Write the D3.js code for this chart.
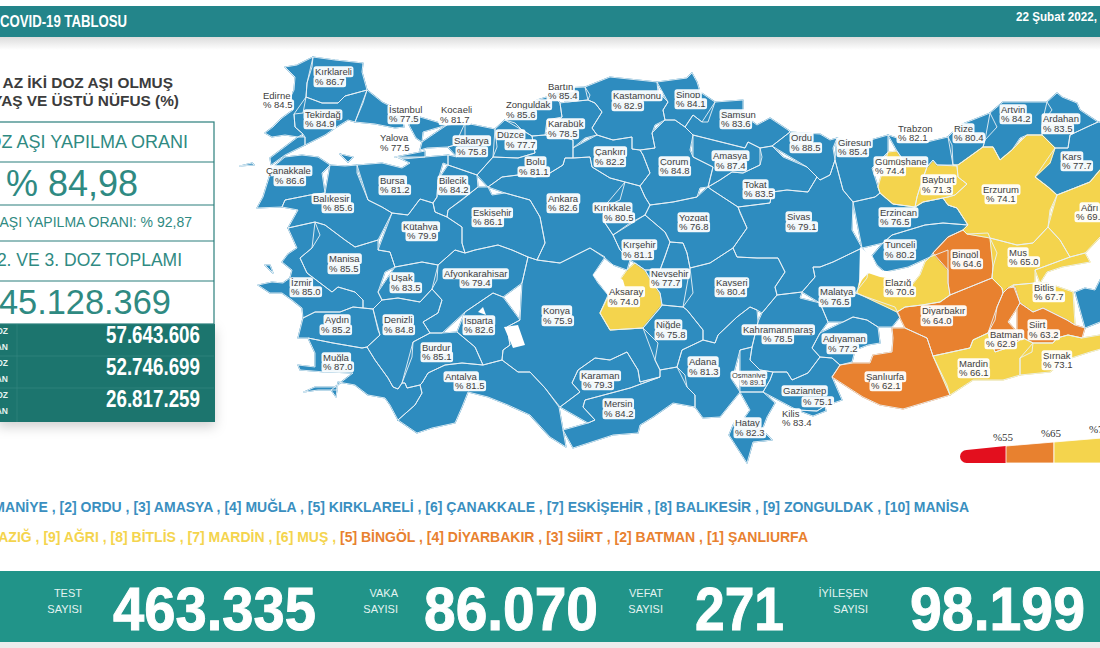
<!DOCTYPE html>
<html>
<head>
<meta charset="utf-8">
<script src="https://cdn.jsdelivr.net/npm/d3@7"></script>
<style>
    html, body { margin: 0; padding: 0; background: #fff; }
    svg { display: block; font-family: "Liberation Sans", Arial, sans-serif; }
</style>
</head>
<body>
<svg id="chart" width="1100" height="648"></svg>
<script>
// values
var provinces = ["Edirne","Kırklareli","Tekirdağ","İstanbul","Çanakkale","Balıkesir","Bursa","Yalova","Kocaeli","Sakarya","Bilecik","Kütahya","Eskişehir","Manisa","İzmir","Aydın","Muğla","Denizli","Uşak","Afyonkarahisar","Isparta","Burdur","Antalya","Konya","Karaman","Mersin","Aksaray","Niğde","Nevşehir","Kırşehir","Kırıkkale","Ankara","Bolu","Düzce","Zonguldak","Bartın","Karabük","Kastamonu","Çankırı","Çorum","Sinop","Samsun","Amasya","Tokat","Yozgat","Kayseri","Sivas","Ordu","Giresun","Adana","Osmaniye","Hatay","Gaziantep","Kilis","Kahramanmaraş","Malatya","Adıyaman","Şanlıurfa","Diyarbakır","Elazığ","Tunceli","Bingöl","Erzincan","Gümüşhane","Bayburt","Trabzon","Rize","Artvin","Ardahan","Kars","Erzurum","Ağrı","Muş","Bitlis","Batman","Siirt","Mardin","Şırnak","Van"];
var vaccinated = [84.5,86.7,84.9,77.5,86.6,85.6,81.2,77.5,81.7,75.8,84.2,79.9,86.1,85.5,85.0,85.2,87.0,84.8,83.5,79.4,82.6,85.1,81.5,75.9,79.3,84.2,74.0,75.8,77.7,81.1,80.5,82.6,81.1,77.7,85.6,85.4,78.5,82.9,82.2,84.8,84.1,83.6,87.4,83.5,76.8,80.4,79.1,88.5,85.4,81.3,89.1,82.3,75.1,83.4,78.5,76.5,77.2,62.1,64.0,70.6,80.2,64.6,76.5,74.4,71.3,82.1,80.4,84.2,83.5,77.7,74.1,69.3,65.0,67.7,62.9,63.2,66.1,73.1,76.0];

var legendStops = [45, 55, 65, 75];
var legendColors = ["#e30f1e", "#e8812f", "#f4d44d", "#2e8cbf"];

var highestTen = ["OSMANİYE","ORDU","AMASYA","MUĞLA","KIRKLARELİ","ÇANAKKALE","ESKİŞEHİR","BALIKESİR","ZONGULDAK","MANİSA"];
var lowestTen = ["ELAZIĞ","AĞRI","BİTLİS","MARDİN","MUŞ","BİNGÖL","DİYARBAKIR","SİİRT","BATMAN","ŞANLIURFA"];

var dailyLabels = ["TEST","VAKA","VEFAT","İYİLEŞEN"];
var dailyValues = ["463.335","86.070","271","98.199"];

var doseLabels = ["1. DOZ","2. DOZ","3. DOZ"];
var doseValues = ["57.643.606","52.746.699","26.817.259"];

// pre-projected basemap, one ring list per province (same order as provinces)
var outlines = [
 [[[285,67],[297,65],[313,57],[312,67],[307,83],[306,97],[303,113],[294,114],[295,127],[303,134],[298,137],[285,135],[272,137],[265,133],[273,127],[282,118],[293,110],[290,98],[294,90],[295,77],[288,73]]],
 [[[313,57],[335,60],[363,63],[362,72],[367,90],[345,96],[338,103],[322,103],[306,97],[307,83],[312,67]]],
 [[[306,97],[322,103],[338,103],[345,96],[367,90],[363,103],[355,122],[348,120],[335,128],[325,135],[315,140],[305,145],[305,137],[303,134],[295,127],[294,114],[303,113]]],
 [[[367,90],[382,102],[388,105],[402,115],[404,127],[395,128],[375,124],[355,122],[363,103]],[[409,125],[412,115],[420,117],[447,125],[423,132],[422,142],[416,138],[408,131]]],
 [[[272,168],[285,157],[302,155],[318,157],[330,165],[322,173],[325,193],[310,195],[285,200],[282,207],[257,208],[263,197],[265,180]],[[298,137],[305,137],[305,145],[285,155],[271,165],[270,158],[285,147]],[[240,166],[252,163],[254,165],[247,169]]],
 [[[330,165],[345,166],[357,165],[357,173],[368,200],[382,207],[392,213],[378,240],[355,247],[345,240],[325,225],[315,222],[288,228],[298,210],[282,207],[285,200],[310,195],[325,193],[322,173]],[[340,154],[353,157],[348,162],[343,160]]],
 [[[357,165],[382,163],[402,168],[410,163],[397,157],[403,159],[425,157],[448,155],[448,165],[443,163],[438,180],[437,197],[433,203],[420,199],[408,215],[392,213],[382,207],[368,200],[357,173]]],
 [[[395,157],[425,151],[425,157],[403,159]]],
 [[[447,125],[465,123],[465,137],[455,145],[448,147],[427,148],[420,150],[422,142],[423,132]]],
 [[[465,123],[495,129],[497,147],[493,157],[477,175],[448,165],[448,155],[457,157],[448,147],[455,145],[465,137]]],
 [[[448,165],[477,175],[478,187],[462,200],[448,210],[447,217],[435,212],[433,203],[437,197],[438,180],[443,163]]],
 [[[392,213],[408,215],[420,199],[433,203],[435,212],[447,217],[462,227],[462,243],[465,253],[455,250],[438,265],[422,262],[395,267],[390,252],[378,250],[378,240]]],
 [[[478,187],[488,187],[492,195],[505,193],[530,200],[540,217],[545,243],[537,260],[528,257],[512,250],[498,245],[475,250],[465,253],[462,243],[462,227],[447,217],[448,210],[462,200]]],
 [[[315,222],[325,225],[345,240],[355,247],[378,240],[378,250],[390,252],[395,267],[385,272],[378,292],[382,300],[373,309],[363,308],[363,300],[355,292],[338,287],[332,292],[307,273],[300,258],[312,248],[320,235]]],
 [[[288,228],[315,222],[320,235],[312,248],[300,258],[307,273],[332,292],[338,287],[355,292],[363,300],[363,308],[353,307],[340,312],[315,312],[303,318],[302,308],[292,300],[282,293],[270,293],[258,285],[272,282],[283,283],[290,278],[292,270],[282,262],[288,254],[297,248],[290,240]],[[265,265],[270,265],[273,273],[270,275]]],
 [[[303,318],[315,312],[340,312],[353,307],[363,308],[373,309],[378,330],[380,335],[367,347],[362,348],[333,343],[308,338],[298,338],[295,330]]],
 [[[308,338],[333,343],[362,348],[367,347],[375,360],[388,378],[393,387],[398,389],[402,383],[405,383],[407,388],[420,385],[422,393],[415,405],[398,420],[390,405],[385,398],[368,395],[355,385],[338,382],[336,397],[331,390],[353,373],[325,372],[300,370],[298,365],[315,367],[315,353],[307,347]],[[304,392],[315,387],[337,387],[337,390],[318,390],[307,393]]],
 [[[373,309],[382,300],[398,298],[420,302],[432,289],[442,300],[438,313],[423,322],[430,333],[413,342],[412,357],[402,383],[398,389],[393,387],[388,378],[375,360],[367,347],[380,335],[378,330]]],
 [[[395,267],[422,262],[438,265],[437,280],[432,289],[420,302],[398,298],[382,300],[378,292],[385,272]]],
 [[[438,265],[455,250],[465,253],[475,250],[498,245],[512,250],[528,257],[522,283],[503,297],[493,293],[465,312],[442,333],[430,333],[423,322],[438,313],[442,300],[432,289],[437,280]]],
 [[[465,312],[493,293],[503,297],[520,320],[507,327],[510,345],[503,350],[502,360],[483,365],[475,347],[457,332],[442,333]]],
 [[[413,342],[430,333],[442,333],[457,332],[475,347],[483,365],[462,363],[445,365],[428,373],[422,383],[420,385],[407,388],[405,383],[402,383],[412,357]]],
 [[[398,420],[415,405],[422,393],[420,385],[422,383],[428,373],[445,365],[462,363],[483,365],[502,360],[518,372],[530,372],[545,388],[559,407],[563,430],[566,447],[550,437],[530,415],[508,405],[488,397],[468,392],[462,407],[455,423],[432,428],[417,433],[405,428]]],
 [[[522,283],[528,257],[537,260],[560,263],[590,248],[605,257],[593,275],[598,283],[608,295],[600,313],[610,330],[643,328],[658,343],[655,360],[660,370],[660,377],[640,382],[638,370],[627,352],[610,360],[595,358],[578,370],[572,383],[580,392],[560,407],[545,388],[530,372],[518,372],[502,360],[503,350],[510,345],[507,327],[520,320],[503,297]]],
 [[[560,407],[580,392],[572,383],[578,370],[595,358],[610,360],[627,352],[638,370],[640,382],[660,377],[630,388],[585,400],[583,407],[595,420],[588,423],[563,430]]],
 [[[563,430],[588,423],[595,420],[583,407],[585,400],[630,388],[660,377],[660,370],[677,367],[685,375],[687,387],[695,395],[695,407],[673,403],[653,417],[640,425],[638,433],[613,435],[573,448],[566,447]]],
 [[[627,270],[635,263],[645,270],[652,282],[660,293],[662,305],[660,308],[643,328],[610,330],[600,313],[608,297],[625,287]]],
 [[[643,328],[660,308],[662,305],[683,307],[687,310],[703,330],[703,340],[682,350],[677,367],[660,370],[655,360],[658,343]]],
 [[[670,242],[683,243],[687,253],[690,268],[693,293],[683,307],[662,305],[660,293],[652,282],[645,270],[660,270],[665,257]]],
 [[[645,215],[665,232],[670,242],[665,257],[660,270],[645,270],[635,263],[630,260],[620,250],[613,235],[630,223]]],
 [[[625,182],[640,186],[645,197],[650,205],[645,215],[630,223],[613,235],[605,223],[603,208],[620,200]]],
 [[[488,187],[502,177],[518,175],[535,177],[550,173],[563,165],[565,158],[573,158],[590,157],[592,167],[610,178],[625,182],[620,200],[603,208],[605,223],[613,235],[620,250],[630,260],[627,270],[613,265],[605,258],[590,248],[560,263],[537,260],[545,243],[540,217],[530,200],[505,193],[492,195]]],
 [[[477,175],[493,157],[518,158],[535,153],[532,136],[545,135],[563,137],[573,140],[573,148],[573,158],[565,158],[563,165],[550,173],[535,177],[518,175],[502,177],[488,187],[478,187]]],
 [[[495,129],[505,120],[515,123],[522,130],[532,136],[535,153],[518,158],[493,157],[497,147]]],
 [[[505,120],[522,110],[537,100],[553,95],[560,103],[562,117],[547,120],[545,135],[532,136],[522,130],[515,123]]],
 [[[553,95],[562,88],[585,87],[590,95],[588,100],[567,102],[560,103]]],
 [[[562,117],[560,103],[567,102],[588,100],[595,103],[602,112],[592,128],[597,135],[585,138],[573,148],[573,140],[563,137],[545,135],[547,120]]],
 [[[585,87],[610,77],[657,82],[658,92],[668,102],[663,110],[665,120],[655,125],[652,133],[655,148],[640,150],[632,149],[632,137],[613,140],[597,135],[592,128],[602,112],[595,103],[588,100],[590,95]]],
 [[[573,148],[573,158],[590,157],[592,167],[610,178],[625,182],[640,186],[650,173],[643,155],[640,150],[632,149],[632,137],[613,140],[597,135],[585,138]]],
 [[[665,120],[675,120],[685,127],[693,135],[690,150],[693,157],[713,167],[708,187],[700,188],[697,197],[673,202],[650,205],[645,197],[640,186],[650,173],[643,155],[640,150],[655,148],[652,133],[655,125]]],
 [[[657,82],[687,78],[692,73],[697,82],[700,92],[715,102],[708,122],[702,122],[693,115],[685,127],[675,120],[665,120],[663,110],[668,102],[658,92]]],
 [[[715,102],[743,100],[743,115],[757,125],[770,118],[788,130],[790,132],[772,146],[760,148],[748,142],[745,148],[713,140],[693,135],[685,127],[693,115],[702,122],[708,122]]],
 [[[693,135],[713,140],[745,148],[748,142],[760,148],[762,157],[760,165],[743,173],[732,172],[720,180],[708,187],[713,167],[693,157],[690,150]]],
 [[[760,148],[772,146],[783,157],[807,167],[817,177],[808,192],[787,190],[772,192],[770,203],[738,207],[712,190],[708,187],[720,180],[732,172],[743,173],[760,165],[762,157]]],
 [[[708,187],[712,190],[738,207],[740,213],[747,228],[733,248],[710,263],[690,268],[687,253],[683,243],[670,242],[665,232],[645,215],[650,205],[673,202],[697,197],[700,188]]],
 [[[690,268],[710,263],[733,248],[737,257],[757,258],[778,258],[785,272],[775,287],[777,295],[762,313],[757,310],[750,307],[737,317],[718,335],[715,343],[703,340],[703,330],[687,310],[683,307],[693,293]]],
 [[[738,207],[770,203],[772,192],[787,190],[808,192],[817,177],[820,180],[830,175],[835,160],[843,190],[853,202],[852,230],[862,248],[833,262],[820,267],[813,267],[815,277],[802,292],[777,295],[775,287],[785,272],[778,258],[757,258],[737,257],[733,248],[747,228],[740,213]]],
 [[[772,146],[790,132],[820,134],[830,140],[837,138],[833,148],[835,160],[830,175],[820,180],[817,177],[807,167],[783,157]]],
 [[[837,138],[860,143],[888,135],[888,152],[872,168],[878,187],[880,193],[875,197],[853,202],[843,190],[835,160],[833,148]]],
 [[[677,367],[682,350],[703,340],[715,343],[718,335],[737,317],[750,307],[757,310],[758,322],[752,347],[740,350],[732,380],[740,392],[720,417],[703,418],[695,407],[695,395],[687,387],[685,375]]],
 [[[740,350],[752,347],[750,360],[760,370],[773,372],[770,380],[763,392],[740,392],[732,380]]],
 [[[740,392],[763,392],[775,403],[767,417],[762,430],[772,440],[753,442],[747,463],[729,435],[734,423],[743,420],[750,410],[740,397]]],
 [[[763,392],[770,380],[773,372],[787,372],[792,380],[808,373],[820,357],[832,358],[840,365],[832,377],[842,400],[825,406],[817,411],[797,410],[775,403]]],
 [[[797,410],[817,411],[825,406],[826,411],[813,416],[800,414]]],
 [[[762,313],[777,295],[802,292],[800,298],[820,303],[828,322],[820,333],[812,348],[820,357],[808,373],[792,380],[787,372],[773,372],[760,370],[750,360],[752,347],[758,322],[757,310]]],
 [[[802,292],[815,277],[813,267],[820,267],[833,262],[862,248],[870,258],[867,278],[855,293],[895,307],[900,317],[892,327],[878,327],[867,320],[853,317],[843,322],[828,322],[820,303],[800,298]]],
 [[[843,322],[853,317],[867,320],[878,327],[880,343],[868,345],[855,350],[852,362],[840,365],[832,358],[820,357],[812,348],[820,333],[828,322]]],
 [[[832,377],[840,365],[853,363],[870,363],[873,355],[892,352],[893,338],[892,328],[905,328],[927,338],[933,356],[947,385],[950,395],[903,409],[880,405],[863,397],[842,400]]],
 [[[897,312],[905,307],[922,305],[940,302],[950,295],[992,278],[1002,288],[1003,293],[997,307],[995,320],[988,333],[973,340],[970,348],[933,356],[927,338],[905,328],[899,320]]],
 [[[857,293],[860,280],[870,272],[885,272],[895,280],[912,285],[920,275],[925,262],[930,257],[948,250],[948,270],[948,283],[950,295],[940,302],[922,305],[905,307],[897,312],[895,307]]],
 [[[883,243],[892,235],[925,225],[943,223],[968,225],[963,230],[948,237],[933,253],[930,257],[908,267],[885,272],[877,265],[872,256],[877,250]]],
 [[[933,253],[948,237],[963,230],[967,234],[988,233],[990,238],[997,253],[993,267],[992,278],[950,295],[948,283],[948,270],[948,250]]],
 [[[853,202],[875,197],[880,193],[893,204],[915,207],[923,202],[943,198],[948,205],[957,208],[968,225],[943,223],[925,225],[892,235],[883,243],[862,248],[852,230]]],
 [[[888,152],[897,151],[905,163],[927,167],[922,180],[917,197],[915,207],[893,204],[880,193],[878,187],[872,168]]],
 [[[927,167],[933,160],[937,165],[957,166],[958,177],[967,184],[955,195],[948,197],[943,198],[923,202],[915,207],[917,197],[922,180]]],
 [[[888,135],[903,140],[927,142],[948,137],[952,145],[953,165],[937,165],[933,160],[927,167],[905,163],[897,151],[888,152]]],
 [[[948,137],[960,125],[990,113],[997,127],[985,140],[983,147],[958,165],[953,165],[952,145]]],
 [[[990,113],[1003,102],[1047,102],[1052,110],[1042,123],[1042,135],[1027,135],[1020,138],[1012,150],[1000,160],[993,147],[983,147],[985,140],[997,127]]],
 [[[1047,102],[1057,93],[1062,97],[1077,103],[1080,110],[1098,122],[1087,127],[1070,135],[1068,148],[1055,148],[1042,135],[1042,123],[1052,110]]],
 [[[1055,148],[1068,148],[1070,135],[1087,127],[1098,122],[1115,125],[1115,170],[1100,170],[1090,182],[1057,195],[1048,187],[1035,177],[1050,163]]],
 [[[1027,135],[1042,135],[1055,148],[1050,163],[1035,177],[1048,187],[1057,195],[1050,210],[1048,227],[1033,243],[1017,245],[990,238],[967,234],[963,230],[968,225],[957,208],[948,205],[943,198],[948,197],[955,195],[967,184],[958,177],[957,166],[953,165],[958,165],[983,147],[993,147],[1000,160],[1012,150],[1020,138]]],
 [[[1057,195],[1090,182],[1100,170],[1115,170],[1115,225],[1100,237],[1085,253],[1070,257],[1060,240],[1048,227],[1050,210]]],
 [[[990,238],[1017,245],[1033,243],[1048,227],[1060,240],[1070,257],[1035,270],[1035,283],[1013,285],[1008,288],[1003,293],[1002,288],[992,278],[993,267],[997,253]]],
 [[[1013,285],[1035,283],[1040,283],[1047,283],[1073,292],[1075,325],[1067,320],[1043,308],[1033,312],[1020,303],[1015,287]],[[1035,270],[1070,257],[1085,253],[1090,262],[1062,267],[1047,272],[1040,283],[1035,283]]],
 [[[997,307],[1003,293],[1008,288],[1015,287],[1020,303],[1017,308],[1008,322],[1017,332],[1023,338],[1007,348],[995,352],[988,333],[995,320]]],
 [[[1017,308],[1020,303],[1033,312],[1043,308],[1067,320],[1075,325],[1085,328],[1082,338],[1068,335],[1057,338],[1053,343],[1033,343],[1023,338],[1017,332],[1008,322]]],
 [[[933,356],[970,348],[973,340],[988,333],[995,352],[1007,348],[1023,338],[1033,343],[1032,352],[1020,358],[1020,375],[1003,380],[973,380],[950,395],[947,385]]],
 [[[1033,343],[1053,343],[1057,338],[1068,335],[1082,338],[1100,335],[1115,333],[1115,345],[1090,352],[1065,360],[1050,372],[1020,375],[1020,358],[1032,352]]],
 [[[1075,292],[1085,288],[1095,290],[1100,280],[1115,270],[1115,320],[1100,322],[1085,328],[1075,325]]]
];

var lakes = [
 [[593,275],[605,260],[613,265],[613,273],[623,280],[625,287],[608,295],[598,283]],
 [[478,312],[483,307],[486,315],[482,318]],
 [[504,327],[518,325],[525,345],[513,348],[510,343]],
 [[860,247],[872,256],[878,270],[895,272],[900,280],[880,277],[868,273],[862,280],[859,286],[864,268]]
];

// [name x, name y, value x, value y] of each label
var labelSpots = [[263,96,263,105],[315,72,315,82],[305,115,305,124],[389,110,389,119],[266,171,275,181],[313,199,323,208],[380,181,380,190],[380,138,380,148],[441,110,440,120],[454,141,457,152],[439,181,439,190],[403,227,407,236],[473,213,473,222],[329,259,329,269],[291,283,291,292],[325,320,321,330],[323,358,323,367],[384,320,384,330],[391,278,391,288],[444,274,461,283],[464,321,464,330],[422,348,422,357],[445,377,455,386],[543,311,543,321],[581,376,583,385],[604,404,604,414],[609,292,609,302],[656,325,656,335],[651,274,651,283],[623,245,623,255],[594,208,604,218],[548,199,548,208],[526,162,519,172],[497,135,506,145],[506,105,506,115],[548,87,548,96],[548,124,548,134],[613,96,613,106],[595,152,595,162],[660,162,660,171],[676,95,676,104],[721,115,721,124],[713,156,716,166],[744,185,744,194],[679,218,679,227],[716,283,716,292],[787,217,787,227],[791,138,791,148],[838,143,838,152],[689,362,689,372],[732,375,741,382],[735,423,735,433],[783,391,803,402],[782,414,782,423],[743,330,763,339],[820,292,820,302],[823,339,828,349],[866,377,871,386],[922,311,922,321],[885,283,885,292],[885,245,885,255],[952,255,952,264],[880,213,880,222],[875,162,875,171],[922,180,922,190],[898,129,898,138],[954,129,954,138],[1001,110,1001,119],[1043,119,1043,129],[1062,157,1062,166],[983,190,986,199],[1081,208,1076,217],[1009,253,1009,262],[1034,288,1034,297],[990,335,986,344],[1029,325,1029,335],[959,364,959,373],[1043,356,1043,365],null];

var svg = d3.select("#chart");
var TEAL = "#23858a", BAND = "#219489", DARK = "#1e756e", LINE = "#2a7f7c", INK = "#2f8a82";

var defs = svg.append("defs");
var fade = defs.append("linearGradient").attr("id", "fade").attr("x1", 0).attr("x2", 0).attr("y1", 0).attr("y2", 1);
fade.append("stop").attr("offset", 0).attr("stop-color", "#dcdcdc");
fade.append("stop").attr("offset", 1).attr("stop-color", "#ffffff");
defs.append("filter").attr("id", "soft").attr("x", "-20%").attr("y", "-20%").attr("width", "140%").attr("height", "150%")
    .append("feDropShadow").attr("dx", 0).attr("dy", 5).attr("stdDeviation", 6).attr("flood-color", "#000").attr("flood-opacity", 0.18);

// header
svg.append("rect").attr("x", 0).attr("y", 37).attr("width", 1100).attr("height", 13).attr("fill", "url(#fade)");
svg.append("rect").attr("x", 0).attr("y", 6).attr("width", 1100).attr("height", 31).attr("fill", TEAL);
svg.append("text").attr("x", 0).attr("y", 23).attr("fill", "#fff")
    .attr("font-weight", "bold").attr("font-size", 17).attr("textLength", 127).attr("lengthAdjust", "spacingAndGlyphs")
    .attr("dominant-baseline", "middle").text("COVID-19 TABLOSU");
svg.append("text").attr("x", 1097).attr("y", 18).attr("text-anchor", "end").attr("fill", "#fff")
    .attr("font-weight", "bold").attr("font-size", 12).attr("textLength", 81).attr("lengthAdjust", "spacingAndGlyphs")
    .attr("dominant-baseline", "middle").text("22 Şubat 2022,");

// map
var color = d3.scaleThreshold().domain(legendStops.slice(1)).range(legendColors);
var projection = d3.geoIdentity();
var path = d3.geoPath(projection);
var features = provinces.map(function (name, i) {
    return {
        type: "Feature",
        properties: { name: name, value: vaccinated[i], spot: labelSpots[i] },
        geometry: { type: "MultiPolygon", coordinates: outlines[i].map(function (ring) { return [ring]; }) }
    };
});
// same colour stroke first so neighbours close up, then the pale borders
svg.append("g").selectAll("path").data(features).enter().append("path")
    .attr("d", path)
    .attr("fill", function (d) { return color(d.properties.value); })
    .attr("stroke", function (d) { return color(d.properties.value); }).attr("stroke-width", 1.2).attr("stroke-linejoin", "round");
svg.append("g").selectAll("path").data(features).enter().append("path")
    .attr("d", path)
    .attr("fill", "none")
    .attr("stroke", "#eaf2f6").attr("stroke-width", 0.9).attr("stroke-linejoin", "round");
svg.append("g").selectAll("path").data(lakes).enter().append("path")
    .attr("d", function (d) { return path({ type: "Polygon", coordinates: [d] }); })
    .attr("fill", "#fff");

// province labels, each line on its own white tag
var labelData = features.filter(function (d) { return d.properties.spot; });
var tags = svg.append("g").attr("fill", "#404040");
function addLine(g, x, y, txt, size) {
    var rect = g.append("rect").attr("fill", "#fff").attr("fill-opacity", 0.94).attr("rx", 2.5);
    var t = g.append("text").attr("x", x).attr("y", y).attr("dy", "0.35em").attr("font-size", size).text(txt);
    var b = t.node().getBBox();
    rect.attr("x", b.x - 1.5).attr("y", b.y).attr("width", b.width + 3).attr("height", b.height);
}
labelData.forEach(function (d) {
    var s = d.properties.spot, small = d.properties.name === "Osmaniye";
    var g = tags.append("g");
    addLine(g, s[0], s[1], d.properties.name, small ? 7.5 : 9.5);
    addLine(g, s[2], s[3], "% " + d.properties.value.toFixed(1), small ? 7.5 : 9.5);
});

// legend wedge
var legendX = d3.scaleLinear().domain(legendStops).range([960, 1006, 1054, 1102]);
var legendTop = d3.scaleLinear().domain([45, 75]).range([450, 438]);
var legendBase = 463;
svg.append("circle").attr("cx", legendX(45) + 6.5).attr("cy", legendBase - 6.5).attr("r", 6.5).attr("fill", legendColors[0]);
d3.pairs(legendStops).forEach(function (p, i) {
    var left = i === 0 ? legendX(45) + 6.5 : legendX(p[0]);
    var topLeft = i === 0 ? legendTop(45) : legendTop(p[0]);
    svg.append("path").attr("fill", legendColors[i]).attr("stroke", "#fff").attr("stroke-width", i === 0 ? 0 : 0.8)
        .attr("d", d3.line()([[left, legendBase], [left, topLeft], [legendX(p[1]), legendTop(p[1])], [legendX(p[1]), legendBase]]) + "Z");
    svg.append("text").attr("x", legendX(p[1]) - 3).attr("y", legendTop(p[1]) - 5).attr("text-anchor", "middle")
        .attr("font-family", "Liberation Serif").attr("font-size", 11).attr("fill", "#333").text("%" + p[1]);
});

// left panel
var panel = svg.append("g");
panel.append("text").attr("x", 173).attr("y", 88).attr("text-anchor", "end").attr("font-weight", "bold").attr("font-size", 15.4).attr("fill", "#3c3c3c").text("EN AZ İKİ DOZ AŞI OLMUŞ");
panel.append("text").attr("x", 179).attr("y", 106).attr("text-anchor", "end").attr("font-weight", "bold").attr("font-size", 15.4).attr("fill", "#3c3c3c").text("18 YAŞ VE ÜSTÜ NÜFUS (%)");
panel.append("rect").attr("x", -2).attr("y", 324).attr("width", 217).attr("height", 98).attr("fill", DARK).attr("filter", "url(#soft)");
panel.append("rect").attr("x", -2).attr("y", 122).attr("width", 216).attr("height", 202).attr("fill", "#fff").attr("stroke", LINE).attr("stroke-width", 1.2);
[162, 205, 241, 281].forEach(function (y) {
    panel.append("line").attr("x1", 0).attr("x2", 214).attr("y1", y).attr("y2", y).attr("stroke", LINE).attr("stroke-width", 1.2);
});
var boxRows = [
    { x: 188, y: 148, size: 18, txt: "2. DOZ AŞI YAPILMA ORANI" },
    { x: 138, y: 196, size: 36, txt: "% 84,98" },
    { x: 192, y: 227, size: 14, txt: "1. DOZ AŞI YAPILMA ORANI: % 92,87" },
    { x: 182, y: 266, size: 17.5, txt: "1., 2. VE 3. DOZ TOPLAMI" },
    { x: 171, y: 314, size: 34.4, txt: "145.128.369" }
];
panel.selectAll("text.row").data(boxRows).enter().append("text").attr("class", "row")
    .attr("x", function (d) { return d.x; }).attr("y", function (d) { return d.y; })
    .attr("text-anchor", "end").attr("font-size", function (d) { return d.size; }).attr("fill", INK)
    .text(function (d) { return d.txt; });
doseValues.forEach(function (v, i) {
    var top = 324 + i * 32;
    if (i > 0) panel.append("line").attr("x1", 0).attr("x2", 214).attr("y1", top).attr("y2", top).attr("stroke", "#3a8a84").attr("stroke-width", 0.6);
    panel.append("text").attr("x", 8).attr("y", top + 10).attr("text-anchor", "end").attr("font-size", 8.5).attr("font-weight", "bold").attr("fill", "#e6f2f0").text(doseLabels[i]);
    panel.append("text").attr("x", 8).attr("y", top + 26).attr("text-anchor", "end").attr("font-size", 8.5).attr("font-weight", "bold").attr("fill", "#e6f2f0").text("UYGULANAN");
    panel.append("text").attr("x", 200).attr("y", top + 19).attr("text-anchor", "end").attr("font-size", 23.5).attr("font-weight", "bold").attr("fill", "#fff")
        .attr("textLength", 94).attr("lengthAdjust", "spacingAndGlyphs").text(v);
});
panel.append("line").attr("x1", 17).attr("x2", 17).attr("y1", 324).attr("y2", 422).attr("stroke", "#3a8a84").attr("stroke-width", 0.5);

// ranking lines
var line1 = svg.append("text").attr("x", 969).attr("y", 512).attr("text-anchor", "end").attr("font-weight", "bold").attr("font-size", 14).attr("fill", "#3a8fc0");
line1.text(highestTen.map(function (n, i) { return "[" + (i + 1) + "] " + n; }).join(" , "));
var line2 = svg.append("text").attr("x", 808).attr("y", 542).attr("text-anchor", "end").attr("font-weight", "bold").attr("font-size", 14);
lowestTen.forEach(function (n, i) {
    var rank = 10 - i;
    line2.append("tspan").attr("fill", rank > 5 ? "#f4d44d" : "#e8812f")
        .text("[" + rank + "] " + n + (i < lowestTen.length - 1 ? " , " : ""));
});

// bottom band
svg.append("rect").attr("x", 0).attr("y", 642).attr("width", 1100).attr("height", 6).attr("fill", "#ececec");
svg.append("rect").attr("x", 0).attr("y", 571).attr("width", 1100).attr("height", 71).attr("fill", BAND);
var labelEnds = [82, 398, 663, 868], numberStarts = [113, 424, 695, 910], numberWidths = [203, 174, 89, 175];
dailyValues.forEach(function (v, i) {
    svg.append("text").attr("x", labelEnds[i]).attr("y", 597).attr("text-anchor", "end").attr("font-size", 11).attr("fill", "#e4f3f1").text(dailyLabels[i]);
    svg.append("text").attr("x", labelEnds[i]).attr("y", 613).attr("text-anchor", "end").attr("font-size", 11).attr("fill", "#e4f3f1").text("SAYISI");
    svg.append("text").attr("x", numberStarts[i]).attr("y", 630).attr("font-size", 62).attr("font-weight", "bold").attr("fill", "#fff")
        .attr("stroke", "#fff").attr("stroke-width", 1)
        .attr("textLength", numberWidths[i]).attr("lengthAdjust", "spacingAndGlyphs").text(v);
});
</script>
</body>
</html>
